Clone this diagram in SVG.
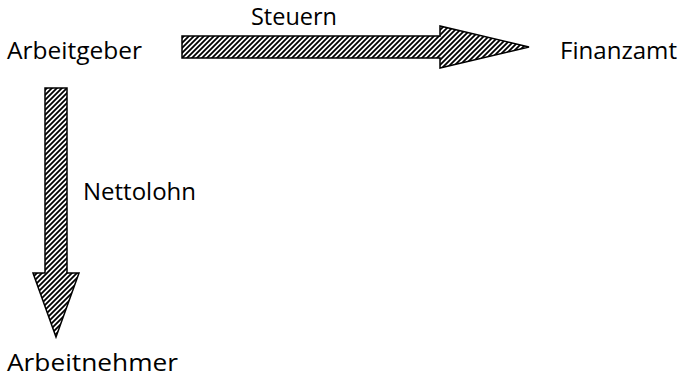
<svg xmlns="http://www.w3.org/2000/svg" width="682" height="378" viewBox="0 0 682 378">
<style>
text{font-family:"Open Sans","Liberation Sans",Arial,sans-serif;font-size:24px;fill:#000}
.arrow{fill:url(#hatch);stroke:#000;stroke-width:1.5;stroke-linejoin:miter}
</style>
<defs>
<pattern id="hatch" patternUnits="userSpaceOnUse" width="5" height="5">
<rect width="5" height="5" fill="#fff"/>
<path d="M-1,1 l2,-2 M0,5 l5,-5 M4,6 l2,-2" stroke="#000" stroke-width="1.8"/>
</pattern>
</defs>
<g id="arbeitgeber"><text x="7" y="59" textLength="135" lengthAdjust="spacingAndGlyphs">Arbeitgeber</text></g>
<g id="finanzamt"><text x="560" y="59" textLength="117" lengthAdjust="spacingAndGlyphs">Finanzamt</text></g>
<g id="arbeitnehmer"><text x="7" y="371" textLength="171" lengthAdjust="spacingAndGlyphs">Arbeitnehmer</text></g>
<g id="connectors">
<g id="steuern">
<path class="arrow" d="M182,36 L440,36 L440,26 L529,47 L440,68 L440,58 L182,58 Z"/>
<text x="251" y="25" textLength="86" lengthAdjust="spacingAndGlyphs">Steuern</text>
</g>
<g id="nettolohn">
<path class="arrow" d="M45,88 L67,88 L67,273 L79,273 L56,337 L33,273 L45,273 Z"/>
<text x="83" y="200" textLength="113" lengthAdjust="spacingAndGlyphs">Nettolohn</text>
</g>
</g>
</svg>
